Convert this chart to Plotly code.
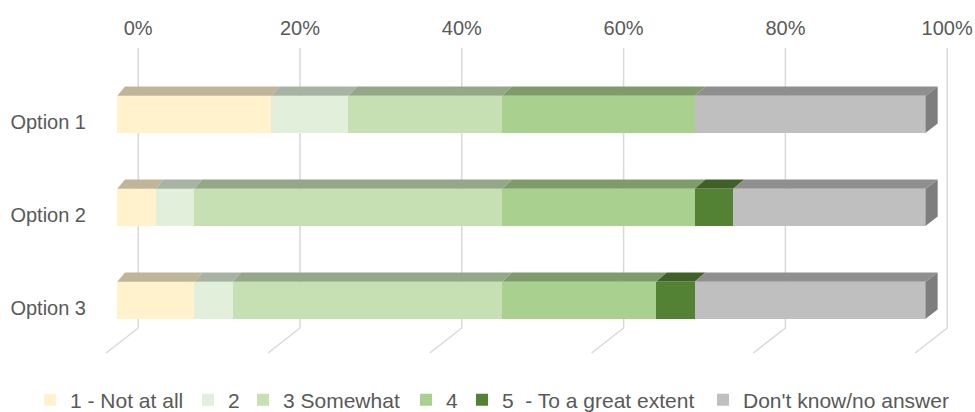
import plotly.graph_objects as go

# ---------------- data ----------------
categories = ["Option 1", "Option 2", "Option 3"]
series_names = ["1 - Not at all", "2", "3 Somewhat", "4",
                "5\u00a0 - To a great extent", "Don't know/no answer"]
not_at_all = [19.05, 4.76, 9.52]
two = [9.52, 4.76, 4.76]
somewhat = [19.05, 38.10, 33.33]
four = [23.81, 23.81, 19.05]
great_extent = [0.0, 4.76, 4.76]
dont_know = [28.57, 23.81, 28.57]
series_values = [not_at_all, two, somewhat, four, great_extent, dont_know]
tick_vals = [0, 20, 40, 60, 80, 100]
tick_text = ["0%", "20%", "40%", "60%", "80%", "100%"]

# ---------------- style ----------------
front_colors = ["#FFF2CC", "#E2EFDA", "#C6E0B4", "#A9D08E", "#548235", "#BFBFBF"]
legend_text_px = [70, 228, 283, 446, 502, 743]   # left edge of each legend label
TXT = "#595959"
FONT = "Liberation Sans, Arial, sans-serif"
GRID = "#D9D9D9"

W, H = 975, 412
ML, MR, MT, MB = 100, 20, 40, 52
plot_w = W - ML - MR
plot_h = H - MT - MB

# bar (front plane) x scale
BAR0_PX, BAR_PX_PER = 117.3, 8.084
# back wall x scale
WALL0_PX, WALL_PX_PER = 138.2, 8.09
# category y scale
CAT0_PX, CAT_PX_PER = 114.2, 93.0
BAR_W = 37.0 / CAT_PX_PER

bar_range = [(ML - BAR0_PX) / BAR_PX_PER, (ML + plot_w - BAR0_PX) / BAR_PX_PER]
wall_range = [(ML - WALL0_PX) / WALL_PX_PER, (ML + plot_w - WALL0_PX) / WALL_PX_PER]


def ypx(p):
    return (p - CAT0_PX) / CAT_PX_PER


y_range = [ypx(MT + plot_h), ypx(MT)]


def shade(hexc, f):
    h = hexc.lstrip("#")
    r, g, b = (int(h[i:i + 2], 16) for i in (0, 2, 4))
    return "#%02X%02X%02X" % (int(r * f), int(g * f), int(b * f))


fig = go.Figure()

# back-wall gridlines + floor lines
gx, gy = [], []
for t in tick_vals:
    gx += [t, t, t - 32 / WALL_PX_PER, None]
    gy += [ypx(48), ypx(328), ypx(353), None]
fig.add_trace(go.Scatter(x=gx, y=gy, mode="lines", xaxis="x", yaxis="y",
                         line=dict(color=GRID, width=1.5), showlegend=False,
                         hoverinfo="skip"))

ypos = list(range(len(categories)))
legend_layout = {}
for k, (name, vals, col) in enumerate(zip(series_names, series_values, front_colors)):
    lname = "legend" if k == 0 else "legend%d" % (k + 1)
    fig.add_trace(go.Bar(name=name, x=vals, y=ypos, orientation="h",
                         xaxis="x2", yaxis="y", width=BAR_W, legend=lname,
                         marker=dict(color=col, line=dict(width=0))))
    legend_layout[lname] = dict(
        orientation="h", xref="container", yref="container",
        x=(legend_text_px[k] - 40) / W, xanchor="left",
        y=(H - 400) / H, yanchor="middle",
        font=dict(family=FONT, size=21, color=TXT),
        bgcolor="rgba(0,0,0,0)", borderwidth=0)

# 3D top faces & end face
DEPTH_Y = 9.3 / CAT_PX_PER


def dx(v):
    return (7.7 + 4.3 * v / 100.0) / BAR_PX_PER


shapes = []
for i, yc in enumerate(ypos):
    ytop = yc - BAR_W / 2
    ybot = yc + BAR_W / 2
    start = 0.0
    for vals, col in zip(series_values, front_colors):
        v = vals[i]
        if v <= 0:
            continue
        x0, x1 = start, start + v
        path = "M %f,%f L %f,%f L %f,%f L %f,%f Z" % (
            x0, ytop, x1, ytop, x1 + dx(x1), ytop - DEPTH_Y, x0 + dx(x0), ytop - DEPTH_Y)
        shapes.append(dict(type="path", path=path, xref="x2", yref="y",
                           fillcolor=shade(col, 0.75), line=dict(width=0), layer="above"))
        start = x1
    last_col = front_colors[-1]
    path = "M %f,%f L %f,%f L %f,%f L %f,%f Z" % (
        start, ytop, start + dx(start), ytop - DEPTH_Y,
        start + dx(start), ybot - DEPTH_Y, start, ybot)
    shapes.append(dict(type="path", path=path, xref="x2", yref="y",
                       fillcolor=shade(last_col, 0.66), line=dict(width=0), layer="above"))

fig.update_layout(
    width=W, height=H, autosize=False,
    margin=dict(l=ML, r=MR, t=MT, b=MB, autoexpand=False),
    paper_bgcolor="white", plot_bgcolor="white",
    barmode="stack", bargap=0,
    font=dict(family=FONT, size=20, color=TXT),
    shapes=shapes,
    showlegend=True,
    xaxis=dict(range=wall_range, side="top", tickvals=tick_vals, ticktext=tick_text,
               showgrid=False, zeroline=False, showline=False, ticks="",
               tickfont=dict(family=FONT, size=20, color=TXT), fixedrange=True),
    xaxis2=dict(range=bar_range, overlaying="x", visible=False, fixedrange=True),
    yaxis=dict(range=y_range, tickvals=ypos, ticktext=categories,
               showgrid=False, zeroline=False, showline=False, ticks="",
               ticklabelshift=-8, ticklabelstandoff=13,
               tickfont=dict(family=FONT, size=20, color=TXT), fixedrange=True),
    **legend_layout,
)

fig.write_html("out.html")
